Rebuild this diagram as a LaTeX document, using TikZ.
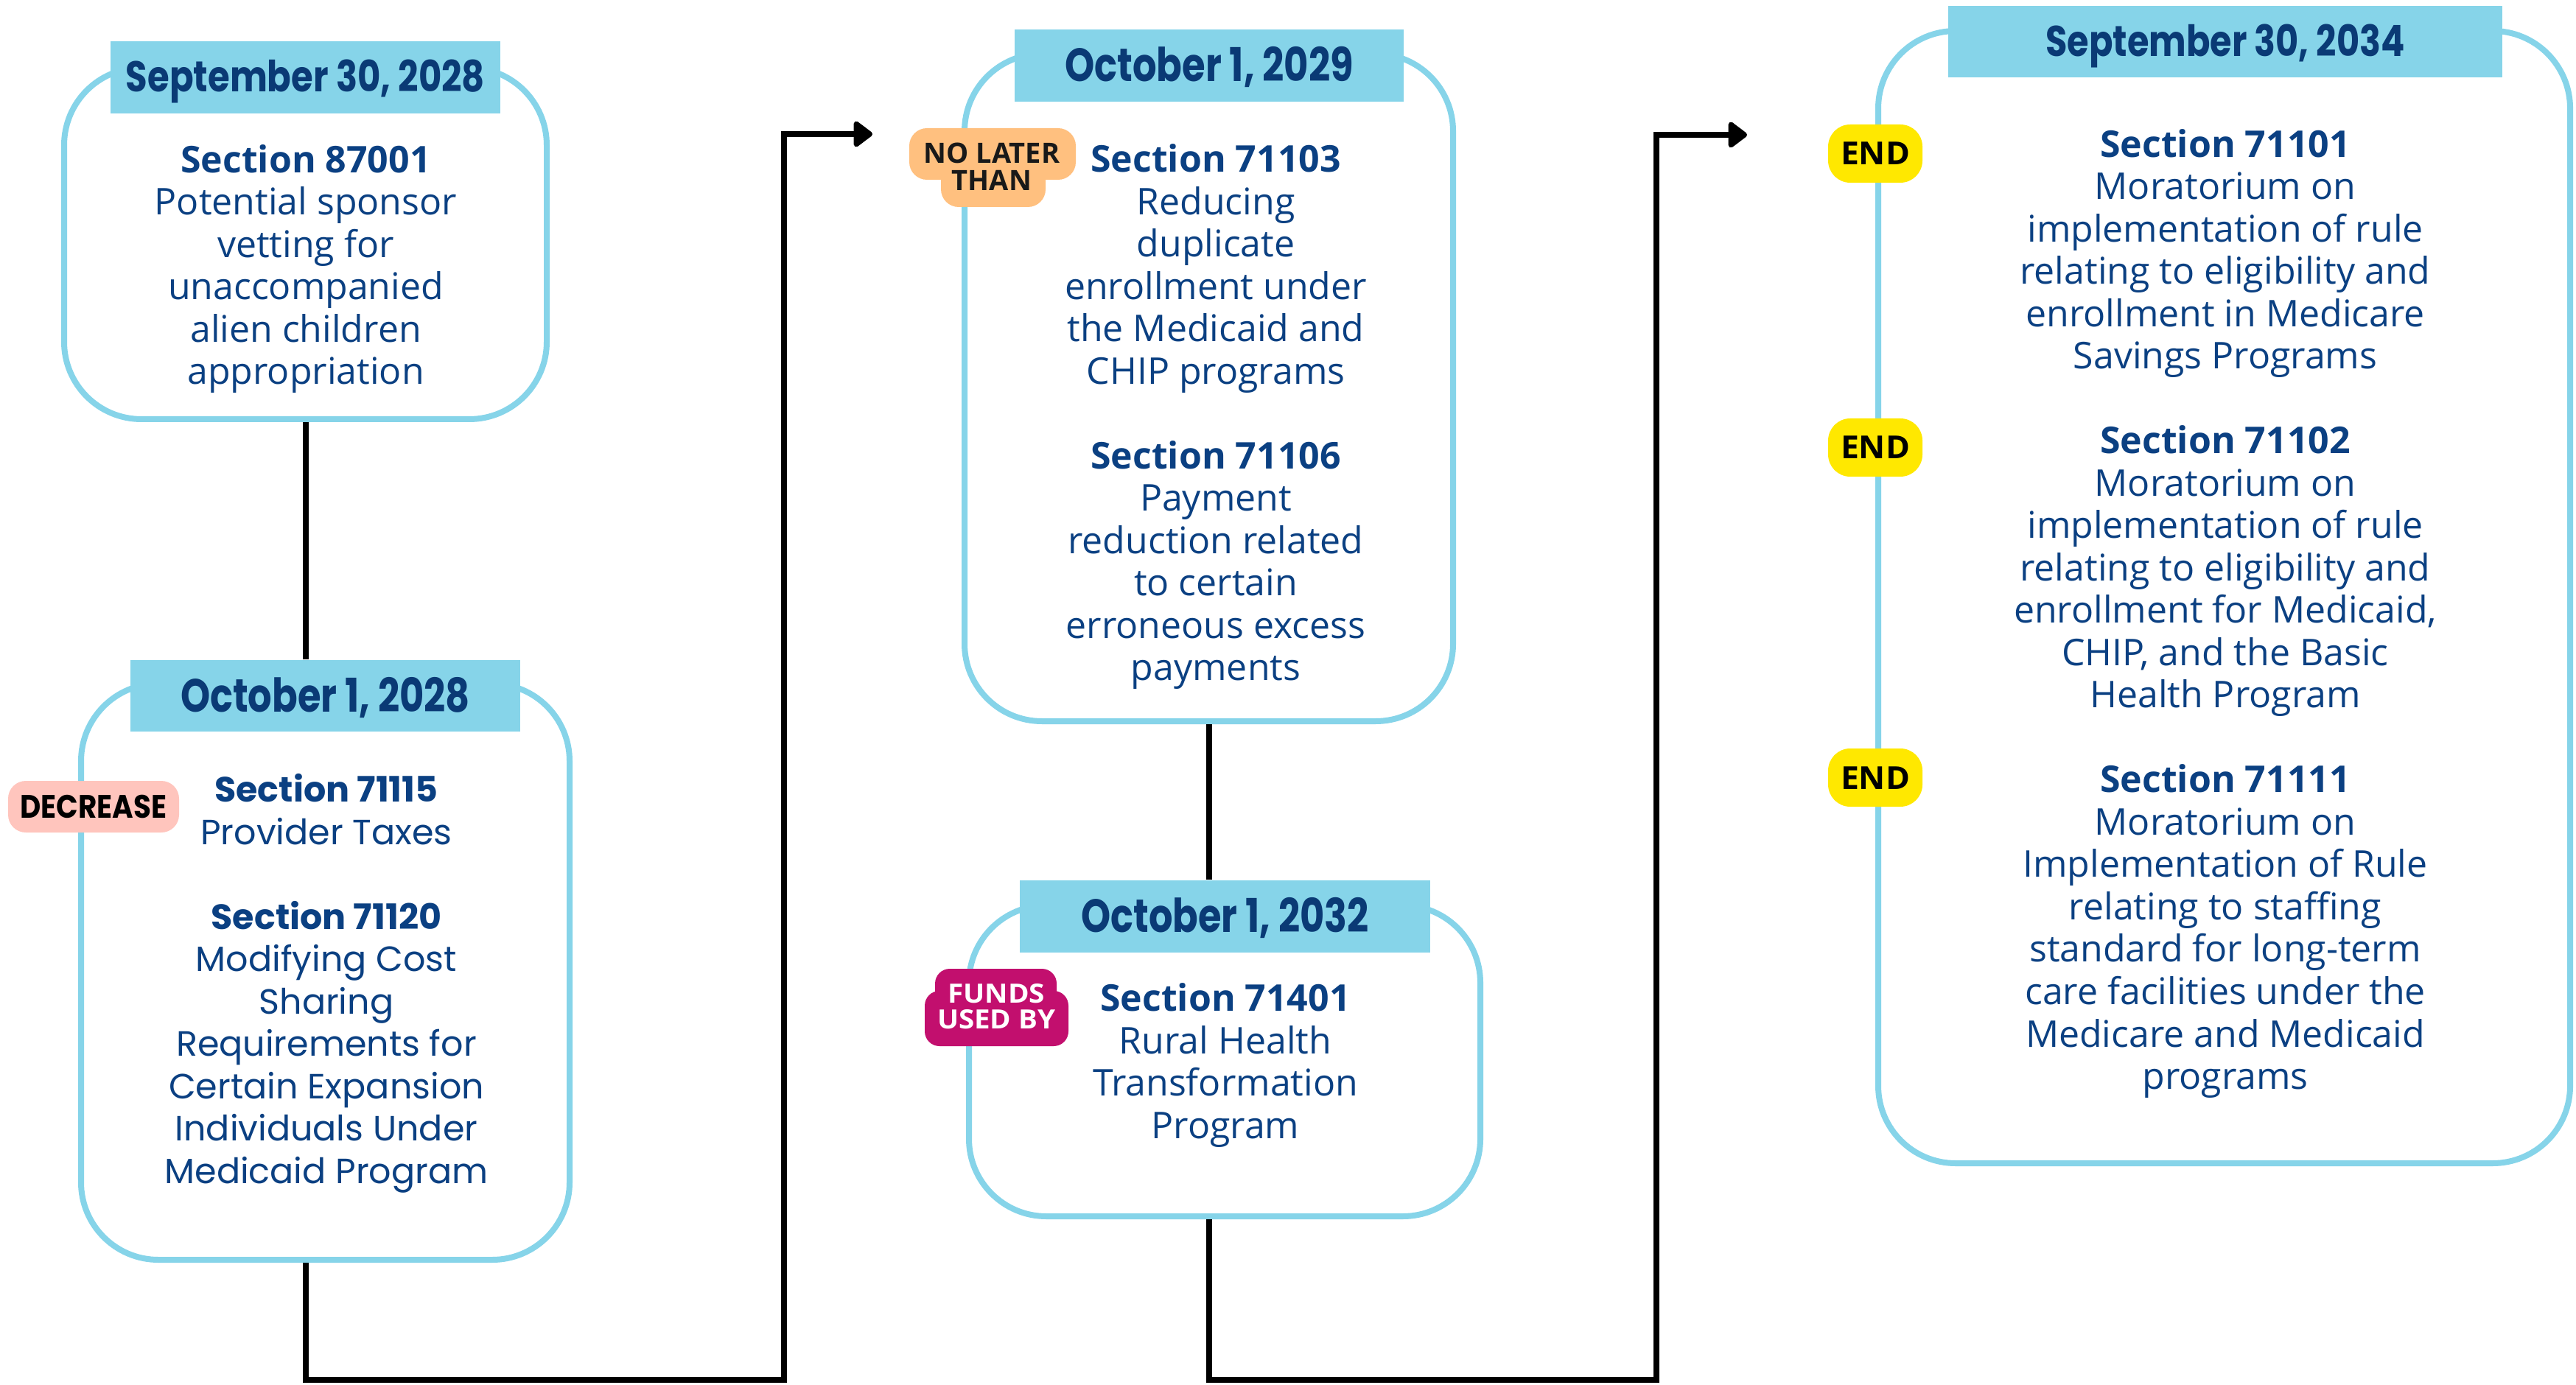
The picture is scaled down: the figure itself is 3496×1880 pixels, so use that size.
\documentclass[tikz,border=0pt]{standalone}
\usepackage{fontspec}
\usepackage{graphicx}
\setmainfont{Open Sans}
\newfontfamily\poppins{Poppins}
\usetikzlibrary{arrows.meta}
\definecolor{navy}{HTML}{0B4082}
\definecolor{hnavy}{HTML}{0A3A75}
\definecolor{lblue}{HTML}{86D4E9}
\definecolor{pinkb}{HTML}{FFC5BD}
\definecolor{orangeb}{HTML}{FFC07F}
\definecolor{magb}{HTML}{C20F6E}
\definecolor{yellowb}{HTML}{FFE800}
\newcommand\hdrS[2]{\resizebox{#1}{\height}{\fontsize{14.6pt}{16pt}\poppins\bfseries #2}}
\newcommand\hdrO[2]{\resizebox{#1}{\height}{\fontsize{15.8pt}{17pt}\poppins\bfseries #2}}
\tikzset{
  box/.style={draw=lblue, line width=2pt, rounded corners=26.25pt, inner sep=0pt},
  hdr/.style={fill=lblue, inner sep=0pt, text=hnavy},
  body/.style={text=navy, align=center, inner sep=0pt, font=\fontsize{12.5pt}{14.375pt}\selectfont},
  pbody/.style={text=navy, align=center, inner sep=0pt, font=\fontsize{11.9pt}{14.375pt}\poppins},
  conn/.style={draw=black, line width=2pt},
  arr/.style={-{Triangle[length=7pt,width=10pt,round]}},
  badge/.style={inner sep=0pt, rounded corners=6pt},
}
\begin{document}
\begin{tikzpicture}[x=0.25pt, y=-0.25pt]
\fill[white] (0,0) rectangle (3496,1880);
\useasboundingbox (0,0) rectangle (3496,1880);

% boxes
\node[box, minimum width=163.75pt, minimum height=119.25pt] (b1) at (414.5,330.5) {};
\node[box, minimum width=165.75pt, minimum height=195.5pt] (b2) at (441.5,1319) {};
\node[box, minimum width=165.75pt, minimum height=226.5pt] (b3) at (1640.5,526) {};
\node[box, minimum width=173.5pt, minimum height=105.5pt] (b4) at (1662,1440) {};
\node[box, minimum width=234.75pt, minimum height=384.25pt] (b5) at (3018.5,810.5) {};

% headers
\node[hdr, minimum width=132.25pt, minimum height=24.5pt, text height=10pt, text depth=0pt] (h1) at (414.5,105) {\hdrS{121.75pt}{September 30, 2028}};
\node[hdr, minimum width=132.25pt, minimum height=24.25pt, text height=10.75pt, text depth=0pt] (h2) at (441.5,944.5) {\hdrO{98.25pt}{October 1, 2028}};
\node[hdr, minimum width=132pt, minimum height=24.5pt, text height=10.75pt, text depth=0pt] (h3) at (1641,89) {\hdrO{98pt}{October 1, 2029}};
\node[hdr, minimum width=139.25pt, minimum height=24.5pt, text height=10.75pt, text depth=0pt] (h4) at (1662.5,1244) {\hdrO{97.5pt}{October 1, 2032}};
\node[hdr, minimum width=188pt, minimum height=24.25pt, text height=10pt, text depth=0pt] (h5) at (3020,56.5) {\hdrS{121.75pt}{September 30, 2034}};

% body texts
\node[body] (t1) at (415,365) {\textbf{Section 87001}\\Potential sponsor\\vetting for\\unaccompanied\\alien children\\appropriation};
\node[pbody] (t2) at (443,1335) {\textbf{Section 71115}\\Provider Taxes\\[14.375pt]\textbf{Section 71120}\\Modifying Cost\\Sharing\\Requirements for\\Certain Expansion\\Individuals Under\\Medicaid Program};
\node[body] (t3) at (1650,566) {\textbf{Section 71103}\\Reducing\\duplicate\\enrollment under\\the Medicaid and\\CHIP programs\\[14.375pt]\textbf{Section 71106}\\Payment\\reduction related\\to certain\\erroneous excess\\payments};
\node[body] (t4) at (1663,1446) {\textbf{Section 71401}\\Rural Health\\Transformation\\Program};
\node[body] (t5) at (3020,833) {\textbf{Section 71101}\\Moratorium on\\implementation of rule\\relating to eligibility and\\enrollment in Medicare\\Savings Programs\\[14.375pt]\textbf{Section 71102}\\Moratorium on\\implementation of rule\\relating to eligibility and\\enrollment for Medicaid,\\CHIP, and the Basic\\Health Program\\[14.375pt]\textbf{Section 71111}\\Moratorium on\\Implementation of Rule\\relating to staffing\\standard for long-term\\care facilities under the\\Medicare and Medicaid\\programs};

% badges
\node[badge, fill=pinkb, minimum width=58pt, minimum height=17.5pt, text height=7.75pt, text depth=0pt] (dec) at (127,1095) {\resizebox{49.75pt}{\height}{\fontsize{11pt}{12pt}\poppins\bfseries DECREASE}};

\node[badge, fill=orangeb, minimum width=56.5pt, minimum height=17.5pt] (nlt) at (1347,209) {};
\node[badge, fill=orangeb, minimum width=35.5pt, minimum height=20.25pt] (nltb) at (1348,240.5) {};
\node[inner sep=0pt, align=center, text=black!90, font=\fontsize{9.5pt}{9.25pt}\selectfont\bfseries] (nltt) at (1346,226) {NO LATER\\THAN};

\node[badge, rounded corners=5pt, fill=magb, minimum width=41.25pt, minimum height=12.5pt] (fub) at (1351.5,1340) {};
\node[badge, rounded corners=5pt, fill=magb, minimum width=48.75pt, minimum height=18.75pt] (fubb) at (1352.5,1382.5) {};
\node[inner sep=0pt, align=center, text=white, font=\fontsize{9pt}{8.75pt}\selectfont\bfseries] (fubt) at (1352,1366) {\resizebox{33pt}{\height}{FUNDS}\\\resizebox{40pt}{\height}{USED BY}};

\foreach \n/\y in {e1/208.5, e2/607.5, e3/1055.5}{
  \node[badge, rounded corners=7.5pt, fill=yellowb, minimum width=32pt, minimum height=19.75pt, text height=7.75pt, text depth=0pt] (\n) at (2545,\y) {\resizebox{23.5pt}{\height}{\fontsize{10.75pt}{12pt}\selectfont\bfseries END}};
}

% connectors
\coordinate (a1) at (1184,182);
\coordinate (k1) at (1064,1873);
\coordinate (a2) at (2371,183);
\coordinate (k2) at (2248,1873);
\draw[conn] (b1.south) -- (b1.south |- h2.north);
\draw[conn, arr] (b2.south -| b1.south) |- (k1) |- (a1);
\draw[conn] (b3.south) -- (b3.south |- h4.north);
\draw[conn, arr] (b4.south -| b3.south) |- (k2) |- (a2);
\end{tikzpicture}
\end{document}
